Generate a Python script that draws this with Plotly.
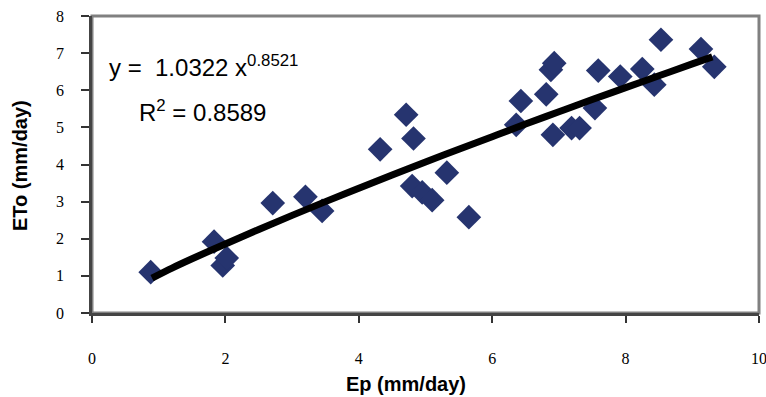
import plotly.graph_objects as go

# Observed data (Ep vs ETo, mm/day)
ep = [0.88, 1.83, 1.96, 2.02, 2.71, 3.20, 3.45, 4.32, 4.71, 4.82,
      4.80, 4.95, 5.10, 5.32, 5.65, 6.36, 6.43, 6.81, 6.88, 6.93,
      6.91, 7.19, 7.31, 7.54, 7.59, 7.92, 8.25, 8.43, 8.53, 9.13, 9.33]
eto = [1.10, 1.92, 1.28, 1.48, 2.96, 3.13, 2.75, 4.41, 5.34, 4.70,
       3.42, 3.25, 3.04, 3.78, 2.58, 5.07, 5.71, 5.89, 6.55, 6.73,
       4.80, 4.98, 4.98, 5.52, 6.53, 6.37, 6.57, 6.15, 7.36, 7.11, 6.63]

# Power trendline as drawn
trend_x = [0.9, 1.2, 1.5, 2.0, 2.5, 3.0, 3.5, 4.0, 4.5, 5.0, 5.5,
           6.0, 6.5, 7.0, 7.5, 8.0, 8.5, 9.0, 9.3]
trend_y = [0.94, 1.21, 1.46, 1.86, 2.25, 2.63, 3.00, 3.36, 3.72, 4.07, 4.41,
           4.75, 5.09, 5.42, 5.75, 6.07, 6.39, 6.71, 6.90]

x_ticks = [0, 2, 4, 6, 8, 10]
y_ticks = [0, 1, 2, 3, 4, 5, 6, 7, 8]

SANS = "Liberation Sans, Arial, sans-serif"
SERIF = "Liberation Serif, Times New Roman, serif"

fig = go.Figure()
fig.add_trace(go.Scatter(
    x=ep, y=eto, mode="markers",
    marker=dict(symbol="diamond", size=19, color="#26346f",
                line=dict(width=0)),
    showlegend=False, cliponaxis=False))
fig.add_trace(go.Scatter(
    x=trend_x, y=trend_y, mode="lines",
    line=dict(color="black", width=7, shape="spline"),
    showlegend=False))

# plot box: grey top/right border
fig.add_shape(type="rect", xref="paper", yref="paper", x0=0, y0=0, x1=1, y1=1,
              line=dict(color="#808080", width=3), layer="below")

fig.add_annotation(xref="paper", yref="paper", x=0.0225, y=0.83, xanchor="left",
                   yanchor="middle", showarrow=False,
                   text="y =&nbsp;&nbsp;1.0322&nbsp;x<sup>0.8521</sup>",
                   font=dict(family=SANS, size=24, color="black"))
fig.add_annotation(xref="paper", yref="paper", x=0.0675, y=0.68, xanchor="left",
                   yanchor="middle", showarrow=False,
                   text="R<sup>2</sup> = 0.8589",
                   font=dict(family=SANS, size=24, color="black"))

# axis titles
fig.add_annotation(xref="paper", yref="paper", x=(406 - 92) / 667, y=-(384 - 313) / 297,
                   xanchor="center", yanchor="middle", showarrow=False,
                   text="<b>Ep (mm/day)</b>",
                   font=dict(family=SANS, size=20, color="black"))
fig.add_annotation(xref="paper", yref="paper", x=-(92 - 20) / 667, y=(313 - 166) / 297,
                   xanchor="center", yanchor="middle", showarrow=False, textangle=-90,
                   text="<b>ETo (mm/day)</b>",
                   font=dict(family=SANS, size=20, color="black"))

fig.update_xaxes(range=[0, 10], tickvals=x_ticks, ticks="outside", ticklen=7,
                 tickcolor="#333333", tickwidth=1.5,
                 showline=True, linecolor="#444444", linewidth=2.5,
                 showgrid=False, zeroline=False, ticklabelstandoff=22, automargin=False,
                 ticklabeloverflow="allow",
                 tickfont=dict(family=SERIF, size=16, color="black"))
fig.update_yaxes(range=[0, 8], tickvals=y_ticks, ticks="outside", ticklen=8,
                 tickcolor="#333333", tickwidth=1.5,
                 showline=True, linecolor="#444444", linewidth=2.5,
                 showgrid=False, zeroline=False, ticklabelstandoff=14, automargin=False,
                 ticklabeloverflow="allow",
                 tickfont=dict(family=SERIF, size=16, color="black"))

fig.update_layout(width=766, height=397,
                  margin=dict(l=92, r=7, t=16, b=84),
                  plot_bgcolor="white", paper_bgcolor="white")

fig.write_html("out.html", config={"displayModeBar": False},
               post_script="document.body.style.margin='0';document.body.style.overflow='hidden';")
